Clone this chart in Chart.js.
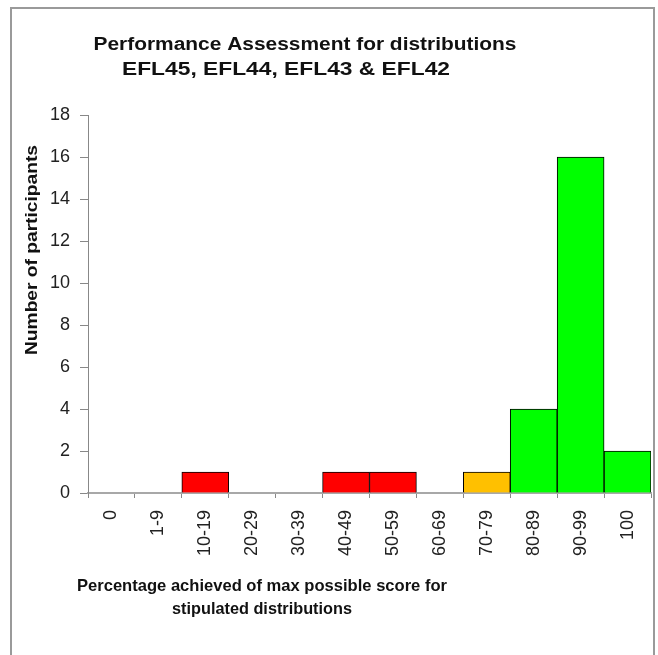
<!DOCTYPE html>
<html>
<head>
<meta charset="utf-8">
<script src="https://cdn.jsdelivr.net/npm/chart.js@4.4.1/dist/chart.umd.min.js"></script>
<style>
  html, body { margin: 0; padding: 0; background: #fff; overflow: hidden; width: 658px; height: 655px; }
  #frame { position: absolute; left: 10px; top: 7px; width: 645px; height: 660px; border: 2px solid #9a9a9a; box-sizing: border-box; }
  #wrap { position: absolute; left: 0; top: 0; width: 658px; height: 655px; }
</style>
</head>
<body>
<div id="frame"></div>
<div id="wrap"><canvas id="histo"></canvas></div>
<script>
// Datos del histograma
const categorias = ['0', '1-9', '10-19', '20-29', '30-39', '40-49', '50-59', '60-69', '70-79', '80-89', '90-99', '100'];
const participantes = [0, 0, 1, 0, 0, 1, 1, 0, 1, 4, 16, 2];
const colores = ['#00ff00', '#00ff00', '#ff0000', '#00ff00', '#00ff00', '#ff0000', '#ff0000', '#00ff00', '#ffc000', '#00ff00', '#00ff00', '#00ff00'];

const tituloLineas = ['Performance Assessment for distributions', 'EFL45, EFL44, EFL43 & EFL42'];
const tituloX = ['Percentage achieved of max possible score for', 'stipulated distributions'];
const tituloY = 'Number of participants';

// Escribe un texto centrado en (cx, cy) estirado al ancho pedido
function textoAjustado(ctx, texto, cx, cy, ancho) {
    const w = ctx.measureText(texto).width;
    ctx.save();
    ctx.translate(cx, cy);
    ctx.scale(ancho / w, 1);
    ctx.fillText(texto, 0, 0);
    ctx.restore();
}

// Plugin para dibujar los títulos donde van en la imagen original
const textos = {
    id: 'textos',
    afterDraw(chart) {
        const ctx = chart.ctx;
        ctx.save();
        ctx.fillStyle = '#111';
        ctx.textAlign = 'center';
        ctx.textBaseline = 'middle';
        ctx.font = 'bold 18px "Liberation Sans", Arial, sans-serif';
        textoAjustado(ctx, tituloLineas[0], 305, 45, 423);
        textoAjustado(ctx, tituloLineas[1], 286, 70, 328);

        ctx.font = 'bold 17px "Liberation Sans", Arial, sans-serif';
        textoAjustado(ctx, tituloX[0], 262, 586, 370);
        textoAjustado(ctx, tituloX[1], 262, 609, 180);

        ctx.translate(32, 250);
        ctx.rotate(-Math.PI / 2);
        textoAjustado(ctx, tituloY, 0, 0, 210);
        ctx.restore();
    }
};

const ctx = document.getElementById('histo').getContext('2d');
const histo = new Chart(ctx, {
    type: 'bar',
    data: {
        labels: categorias,
        datasets: [{
            data: participantes,
            backgroundColor: colores,
            borderColor: '#000',
            borderWidth: 1,
            borderSkipped: 'start',
            barPercentage: 1,
            categoryPercentage: 1
        }]
    },
    options: {
        responsive: true,
        maintainAspectRatio: false,
        animation: false,
        layout: { padding: { left: 0, right: 7, top: 115, bottom: 92 } },
        plugins: {
            legend: { display: false },
            tooltip: { enabled: false }
        },
        scales: {
            x: {
                afterFit: s => { s.height = 70; s.paddingLeft = 0; s.paddingRight = 0; },
                grid: { offset: true, drawOnChartArea: false, tickLength: 5, color: '#888' },
                border: { color: '#a8a8a8', width: 2 },
                ticks: {
                    minRotation: 90, maxRotation: 90, padding: 12,
                    color: '#222',
                    font: { family: '"Liberation Sans", Arial, sans-serif', size: 18 }
                }
            },
            y: {
                min: 0, max: 18,
                afterFit: s => { s.width = 88; },
                grid: { drawOnChartArea: false, tickLength: 8, color: '#888' },
                border: { color: '#888', width: 1 },
                ticks: {
                    stepSize: 2, padding: 10,
                    color: '#222',
                    font: { family: '"Liberation Sans", Arial, sans-serif', size: 18 }
                }
            }
        }
    },
    plugins: [textos]
});
</script>
</body>
</html>
